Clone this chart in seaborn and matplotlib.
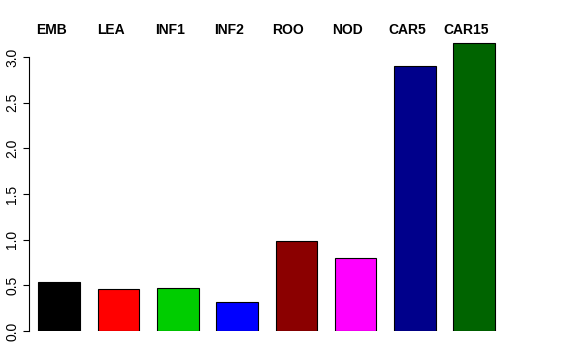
import matplotlib
matplotlib.use("Agg")
import matplotlib.pyplot as plt
import matplotlib.transforms as mtransforms
import seaborn as sns
import pandas as pd

# dane
tissues = ["EMB", "LEA", "INF1", "INF2", "ROO", "NOD", "CAR5", "CAR15"]
values = [0.54, 0.46, 0.47, 0.32, 0.99, 0.80, 2.90, 3.15]
bar_colors = ["#000000", "#FF0000", "#00CD00", "#0000FF",
              "#8B0000", "#FF00FF", "#00008B", "#006400"]
y_ticks = [0.0, 0.5, 1.0, 1.5, 2.0, 2.5, 3.0]

sns.set_style("white")
plt.rcParams["font.family"] = ["Liberation Sans", "DejaVu Sans"]
plt.rcParams["text.color"] = "black"
plt.rcParams["ytick.color"] = "black"
plt.rcParams["ytick.labelcolor"] = "black"

df = pd.DataFrame({"tissue": tissues, "value": values})

W, H = 576, 360
fig = plt.figure(figsize=(W / 100, H / 100), dpi=100)
left_px, right_px, bottom_px, top_px = 29, 519, 331, 38.7
ax = fig.add_axes([left_px / W, (H - bottom_px) / H,
                   (right_px - left_px) / W, (bottom_px - top_px) / H])

sns.barplot(data=df, x="tissue", y="value", hue="tissue", palette=bar_colors,
            saturation=1, width=0.7, edgecolor="black", linewidth=0.8,
            legend=False, ax=ax)

ax.set_xlim(-0.51, 7.755)
ax.set_ylim(0, 3.2)
ax.set_xlabel("")
ax.set_ylabel("")
ax.set_xticks([])
ax.set_yticks(y_ticks)
ax.set_yticklabels([f"{t:.1f}" for t in y_ticks], rotation=90, va="center",
                   fontsize=10, color="black")
ax.tick_params(axis="y", length=4, width=0.8, color="black", pad=3,
               left=True)
for side in ["top", "right", "bottom"]:
    ax.spines[side].set_visible(False)
ax.spines["left"].set_bounds(0, 3.0)
ax.spines["left"].set_color("black")
ax.spines["left"].set_linewidth(0.8)

# etykiety nad wykresem (lekko przesunięte w lewo jak w oryginale)
trans = mtransforms.blended_transform_factory(ax.transData, fig.transFigure)
offset = mtransforms.ScaledTranslation(-8 / 100, 0, fig.dpi_scale_trans)
for i, name in enumerate(tissues):
    ax.text(i, 1 - 30 / H, name, transform=trans + offset, ha="center",
            va="center", fontsize=10, fontweight="bold", color="black")

fig.savefig("out.png", dpi=100)
